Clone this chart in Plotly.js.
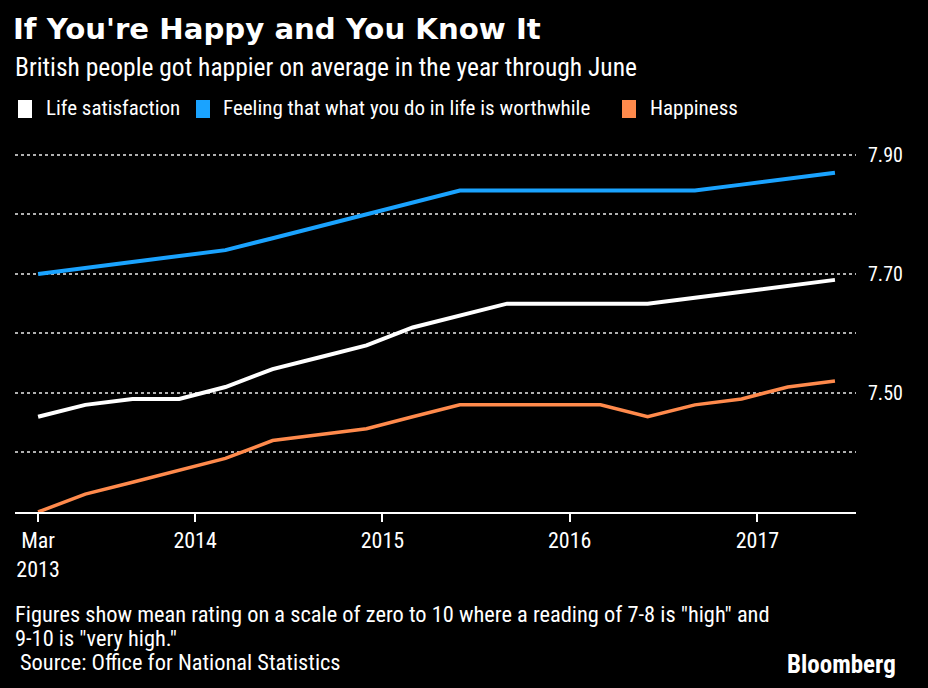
<!DOCTYPE html>
<html>
<head>
<meta charset="utf-8">
<script src="https://cdn.plot.ly/plotly-3.0.1.min.js"></script>
<style>
  html, body { margin: 0; padding: 0; background: #000; }
  #chart { width: 928px; height: 688px; }
</style>
</head>
<body>
<div id="chart"></div>
<script>
// Quarterly readings, year ending each month (ONS well-being survey)
const quarters = [
  '2013-03-01', '2013-06-01', '2013-09-01', '2013-12-01',
  '2014-03-01', '2014-06-01', '2014-09-01', '2014-12-01',
  '2015-03-01', '2015-06-01', '2015-09-01', '2015-12-01',
  '2016-03-01', '2016-06-01', '2016-09-01', '2016-12-01',
  '2017-03-01', '2017-06-01'
];
const lifeSatisfaction = [7.46, 7.48, 7.49, 7.49, 7.51, 7.54, 7.56, 7.58, 7.61, 7.63,
                          7.65, 7.65, 7.65, 7.65, 7.66, 7.67, 7.68, 7.69];
const worthwhile = [7.70, 7.71, 7.72, 7.73, 7.74, 7.76, 7.78, 7.80, 7.82, 7.84,
                    7.84, 7.84, 7.84, 7.84, 7.84, 7.85, 7.86, 7.87];
const happiness = [7.30, 7.33, 7.35, 7.37, 7.39, 7.42, 7.43, 7.44, 7.46, 7.48,
                   7.48, 7.48, 7.48, 7.46, 7.48, 7.49, 7.51, 7.52];

const seriesNames = ['Life satisfaction', 'Feeling that what you do in life is worthwhile', 'Happiness'];
const seriesColors = ['#ffffff', '#1aa3ff', '#ff8a4c'];

const xTickVals = ['2013-03-01', '2014-01-01', '2015-01-01', '2016-01-01', '2017-01-01'];
const xTickText = ['Mar<br>2013', '2014', '2015', '2016', '2017'];
const yTickVals = [7.4, 7.5, 7.6, 7.7, 7.8, 7.9];
const yTickText = ['', '7.50', '', '7.70', '', '7.90'];

const W = 928, H = 688;
const M = { l: 15, r: 72, t: 140, b: 176 };
const NARROW = '"Liberation Sans Narrow", "Arial Narrow", "Roboto Condensed", sans-serif';

// pixel -> paper helpers for the text blocks around the plot
const px = x => (x - M.l) / (W - M.l - M.r);
const py = y => (H - M.b - y) / (H - M.t - M.b);

const traces = [lifeSatisfaction, worthwhile, happiness].map((vals, i) => ({
  x: quarters,
  y: vals,
  type: 'scatter',
  mode: 'lines',
  name: seriesNames[i],
  line: { color: seriesColors[i], width: i === 2 ? 3.5 : 4 },
  hoverinfo: 'x+y'
}));

// legend swatches + labels drawn by hand (tall rectangles like the original)
const legendX = [18, 196, 622];
const legendTextX = [44, 221, 648];
const shapes = legendX.map((x, i) => ({
  type: 'rect', xref: 'paper', yref: 'paper',
  x0: px(x), x1: px(x + 14), y0: py(118), y1: py(100),
  fillcolor: seriesColors[i], line: { width: 0 }
}));

const annotations = seriesNames.map((name, i) => ({
  xref: 'paper', yref: 'paper', x: px(legendTextX[i]), y: py(108),
  xanchor: 'left', yanchor: 'middle', showarrow: false,
  text: name, font: { family: NARROW, size: 21, color: '#ffffff' }
}));

annotations.push(
  {
    xref: 'paper', yref: 'paper', x: px(13), y: py(67),
    xanchor: 'left', yanchor: 'middle', showarrow: false,
    text: 'British people got happier on average in the year through June',
    font: { family: NARROW, size: 25.5, color: '#ffffff' }
  },
  {
    xref: 'paper', yref: 'paper', x: px(13), y: py(614),
    xanchor: 'left', yanchor: 'middle', showarrow: false,
    text: 'Figures show mean rating on a scale of zero to 10 where a reading of 7-8 is "high" and',
    font: { family: NARROW, size: 22.4, color: '#ffffff' }
  },
  {
    xref: 'paper', yref: 'paper', x: px(13), y: py(638),
    xanchor: 'left', yanchor: 'middle', showarrow: false,
    text: '9-10 is "very high."',
    font: { family: NARROW, size: 22.4, color: '#ffffff' }
  },
  {
    xref: 'paper', yref: 'paper', x: px(18), y: py(662),
    xanchor: 'left', yanchor: 'middle', showarrow: false,
    text: 'Source: Office for National Statistics',
    font: { family: NARROW, size: 22.4, color: '#ffffff' }
  },
  {
    xref: 'paper', yref: 'paper', x: px(898), y: py(664),
    xanchor: 'right', yanchor: 'middle', showarrow: false,
    text: '<b>Bloomberg</b>',
    font: { family: NARROW, size: 25, color: '#ffffff' }
  }
);

const layout = {
  width: W,
  height: H,
  paper_bgcolor: '#000000',
  plot_bgcolor: '#000000',
  margin: M,
  showlegend: false,
  font: { family: NARROW, color: '#ffffff', size: 22 },
  title: {
    text: "<b>If You're Happy and You Know It</b>",
    x: 13 / W, xref: 'container', xanchor: 'left',
    y: 1 - 29 / H, yref: 'container', yanchor: 'middle',
    font: { family: '"DejaVu Sans", sans-serif', size: 29.2, color: '#ffffff' }
  },
  xaxis: {
    type: 'date',
    range: ['2013-01-15', '2017-07-12'],
    tickvals: xTickVals,
    ticktext: xTickText,
    ticks: 'outside',
    ticklen: 8,
    tickwidth: 2,
    tickcolor: '#ffffff',
    showline: true,
    linecolor: '#ffffff',
    linewidth: 2,
    showgrid: false,
    zeroline: false,
    tickfont: { family: NARROW, size: 22, color: '#ffffff' }
  },
  yaxis: {
    range: [7.30, 7.925],
    side: 'right',
    tickvals: yTickVals,
    ticktext: yTickText,
    ticks: 'outside',
    ticklen: 7,
    tickcolor: 'rgba(0,0,0,0)',
    showline: false,
    zeroline: false,
    showgrid: true,
    gridcolor: '#b0b0b0',
    gridwidth: 1.5,
    griddash: 'dot',
    tickfont: { family: NARROW, size: 20, color: '#ffffff' }
  },
  shapes: shapes,
  annotations: annotations
};

Plotly.newPlot('chart', traces, layout, { displayModeBar: false, responsive: false });
</script>
</body>
</html>
